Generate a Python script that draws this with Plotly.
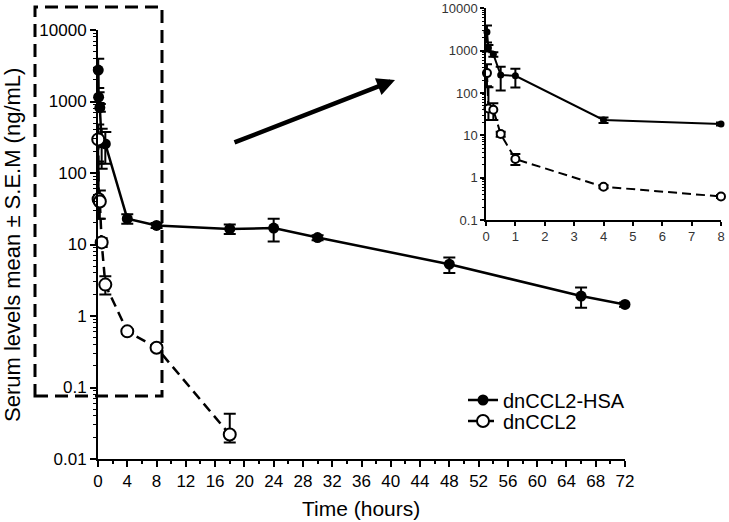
import plotly.graph_objects as go

# ---- data ----
hsa_time = [0.033, 0.083, 0.25, 0.5, 1, 4, 8, 18, 24, 30, 48, 66, 72]
hsa_mean = [2750, 1150, 820, 265, 255, 23, 18.5, 16.5, 17, 12.5, 5.3, 1.9, 1.45]
hsa_sem = [1200, 200, 100, 150, 120, 3.5, 1.5, 2.5, 6, 1, 1.3, 0.6, 0.1]

ccl2_time = [0.033, 0.083, 0.25, 0.5, 1, 4, 8, 18]
ccl2_mean = [295, 43, 40, 10.7, 2.75, 0.61, 0.36, 0.022]
ccl2_sem_plus = [180, 93, 17, 1.5, 0.85, 0.05, 0.03, 0.021]
ccl2_sem_minus = [150, 20, 17, 1.5, 0.75, 0.05, 0.03, 0.005]

x_ticks_main = list(range(0, 73, 4))
y_ticks_main = [0.01, 0.1, 1, 10, 100, 1000, 10000]
y_ticklabels_main = ["0.01", "0.1", "1", "10", "100", "1000", "10000"]
x_ticks_inset = list(range(0, 9))
y_ticks_inset = [0.1, 1, 10, 100, 1000, 10000]
y_ticklabels_inset = ["0.1", "1", "10", "100", "1000", "10000"]

W, H = 729, 522
FONT = "Liberation Sans, Arial, sans-serif"


def px(x):
    return x / W


def py(y):
    return 1 - y / H


inset_limit = 8
hsa_in = [i for i, t in enumerate(hsa_time) if t <= inset_limit]
ccl_in = [i for i, t in enumerate(ccl2_time) if t <= inset_limit]

fig = go.Figure()

# main plot
fig.add_trace(go.Scatter(
    x=hsa_time, y=hsa_mean, name="dnCCL2-HSA", mode="lines+markers",
    line=dict(color="black", width=2.5),
    marker=dict(symbol="circle", size=11, color="black"),
    error_y=dict(type="data", array=hsa_sem, color="black", thickness=2, width=6),
    xaxis="x", yaxis="y", cliponaxis=False, legend="legend",
))
fig.add_trace(go.Scatter(
    x=ccl2_time, y=ccl2_mean, name="dnCCL2", mode="lines+markers",
    line=dict(color="black", width=2.5, dash="10px,6px"),
    marker=dict(symbol="circle", size=12, color="white", line=dict(color="black", width=2)),
    error_y=dict(type="data", symmetric=False, array=ccl2_sem_plus, arrayminus=ccl2_sem_minus,
                 color="black", thickness=2, width=6),
    xaxis="x", yaxis="y", cliponaxis=False, legend="legend2",
))

# inset
fig.add_trace(go.Scatter(
    x=[hsa_time[i] for i in hsa_in], y=[hsa_mean[i] for i in hsa_in], mode="lines+markers",
    line=dict(color="black", width=2),
    marker=dict(symbol="circle", size=7, color="black"),
    error_y=dict(type="data", array=[hsa_sem[i] for i in hsa_in], color="black", thickness=2, width=5),
    xaxis="x2", yaxis="y2", showlegend=False, cliponaxis=False,
))
fig.add_trace(go.Scatter(
    x=[ccl2_time[i] for i in ccl_in], y=[ccl2_mean[i] for i in ccl_in], mode="lines+markers",
    line=dict(color="black", width=2, dash="9px,5px"),
    marker=dict(symbol="circle", size=8, color="white", line=dict(color="black", width=2)),
    error_y=dict(type="data", symmetric=False,
                 array=[ccl2_sem_plus[i] for i in ccl_in],
                 arrayminus=[ccl2_sem_minus[i] for i in ccl_in],
                 color="black", thickness=2, width=5),
    xaxis="x2", yaxis="y2", showlegend=False, cliponaxis=False,
))

minor_main = [m * 10 ** e for e in range(-2, 4) for m in range(2, 10)]
minor_inset = [m * 10 ** e for e in range(-1, 4) for m in range(2, 10)]

axis_common = dict(showgrid=False, zeroline=False, showline=True, linecolor="black",
                   ticks="outside", tickcolor="black", color="black", automargin=False)

legend_common = dict(xanchor="left", yanchor="middle", font=dict(size=20, family=FONT),
                     bgcolor="rgba(0,0,0,0)", itemwidth=30, borderwidth=0)

fig.update_layout(
    width=W, height=H,
    margin=dict(l=0, r=0, t=0, b=0, autoexpand=False),
    paper_bgcolor="white", plot_bgcolor="white",
    font=dict(family=FONT, color="black"),
    xaxis=dict(domain=[px(98), px(625)], range=[0, 72], tickvals=x_ticks_main,
               linewidth=2, ticklen=6, tickwidth=2, tickfont=dict(size=17),
               minor=dict(ticks="outside", ticklen=3, tickwidth=1.5, dtick=2, tick0=0, tickcolor="black"),
               anchor="y", **axis_common),
    yaxis=dict(domain=[py(459), py(30)], type="log", range=[-2, 4],
               tickvals=y_ticks_main, ticktext=y_ticklabels_main,
               linewidth=2, ticklen=6, tickwidth=2, tickfont=dict(size=17),
               minor=dict(ticks="outside", ticklen=3, tickwidth=1, tickvals=minor_main, tickcolor="black"),
               anchor="x", **axis_common),
    xaxis2=dict(domain=[px(486), px(721)], range=[0, 8], tickvals=x_ticks_inset,
                linewidth=1.5, ticklen=4, tickwidth=1.5, tickfont=dict(size=13, color="#333"),
                anchor="y2", **axis_common),
    yaxis2=dict(domain=[py(220), py(8.3)], type="log", range=[-1, 4],
                tickvals=y_ticks_inset, ticktext=y_ticklabels_inset,
                linewidth=1.5, ticklen=4, tickwidth=1.5, tickfont=dict(size=13, color="#333"),
                minor=dict(ticks="outside", ticklen=2, tickwidth=1, tickvals=minor_inset, tickcolor="black"),
                anchor="x2", **axis_common),
    legend=dict(x=px(463), y=py(400), **legend_common),
    legend2=dict(x=px(463), y=py(421), **legend_common),
    shapes=[dict(type="rect", xref="paper", yref="paper",
                 x0=px(35), x1=px(162), y0=py(396), y1=py(7),
                 line=dict(color="black", width=3, dash="13px,7px"))],
    annotations=[
        dict(xref="paper", yref="paper", x=px(395), y=py(80), text="",
             showarrow=True, ax=-162, ay=63, axref="pixel", ayref="pixel",
             arrowhead=2, arrowsize=0.8, arrowwidth=4.5, arrowcolor="black"),
        dict(xref="paper", yref="paper", x=px(361), y=py(508), text="Time (hours)",
             showarrow=False, font=dict(size=21), xanchor="center", yanchor="middle"),
        dict(xref="paper", yref="paper", x=px(13), y=py(245),
             text="Serum levels mean ± S.E.M (ng/mL)", textangle=-90,
             showarrow=False, font=dict(size=22), xanchor="center", yanchor="middle"),
    ],
)

fig.write_html("out.html", config={"displayModeBar": False},
               post_script="document.body.style.margin='0';document.body.style.padding='0';")
